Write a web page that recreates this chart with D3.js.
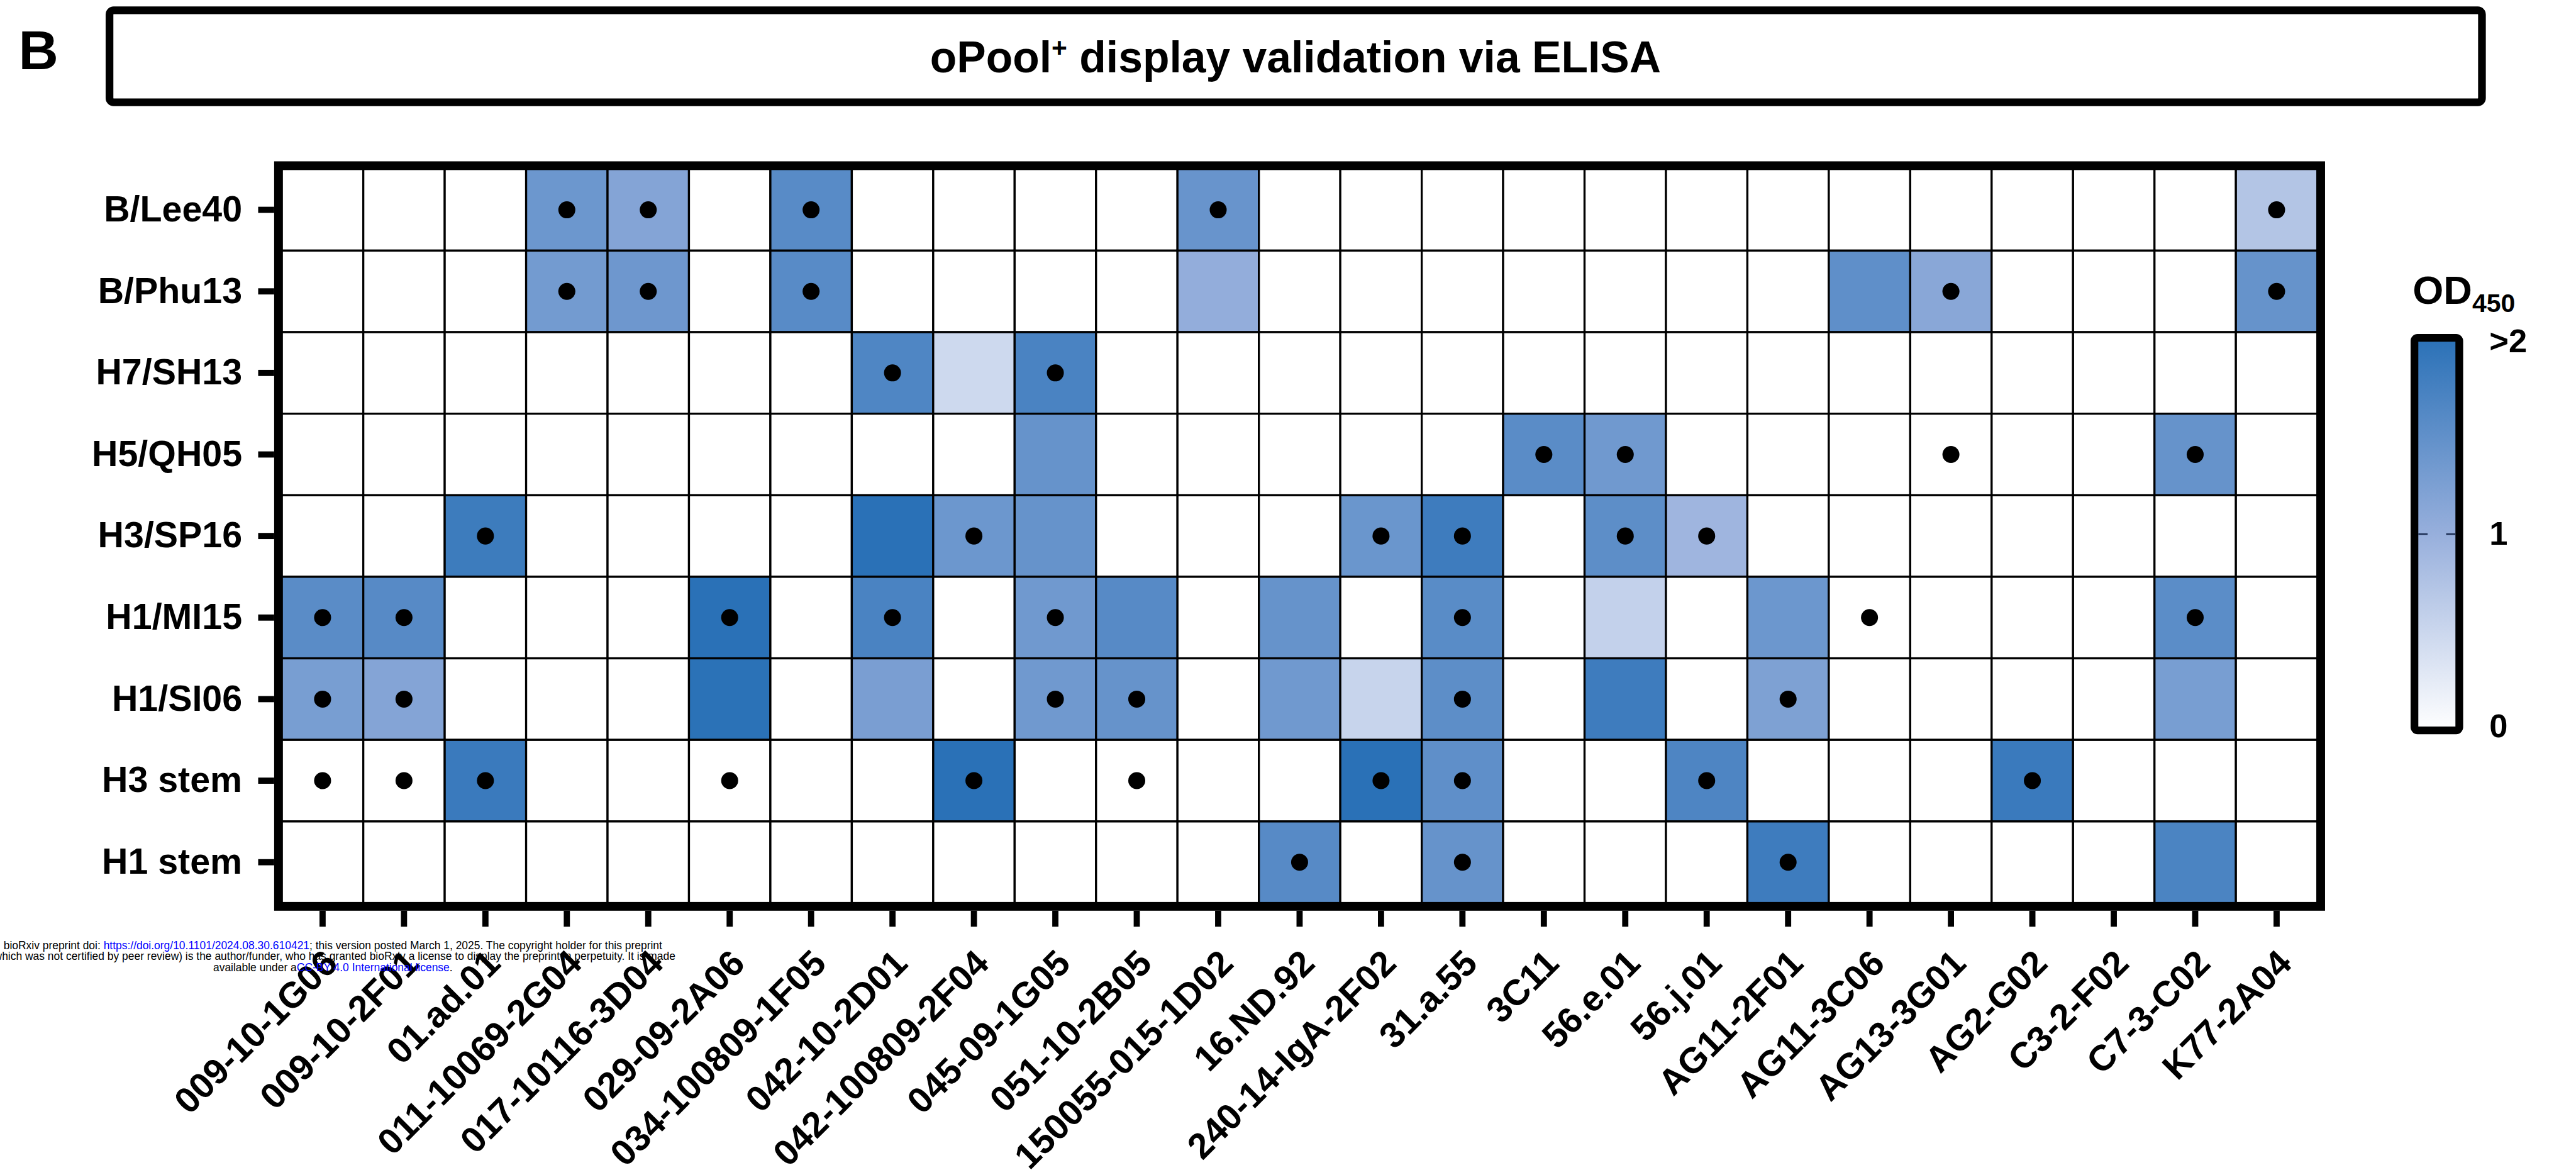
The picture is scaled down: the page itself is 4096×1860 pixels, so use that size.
<!DOCTYPE html>
<html>
<head>
<meta charset="utf-8">
<script src="https://cdn.jsdelivr.net/npm/d3@7"></script>
<style>
  html, body { margin: 0; padding: 0; background: #fff; }
  svg { display: block; }
</style>
</head>
<body>
<div id="wrapper"></div>
<script>
// columns (antibodies) and rows (antigens)
const antibodies = ["009-10-1G06", "009-10-2F01", "01.ad.01", "011-10069-2G04", "017-10116-3D04",
    "029-09-2A06", "034-100809-1F05", "042-10-2D01", "042-100809-2F04", "045-09-1G05",
    "051-10-2B05", "150055-015-1D02", "16.ND.92", "240-14-IgA-2F02", "31.a.55",
    "3C11", "56.e.01", "56.j.01", "AG11-2F01", "AG11-3C06",
    "AG13-3G01", "AG2-G02", "C3-2-F02", "C7-3-C02", "K77-2A04"]
const antigens = ["B/Lee40", "B/Phu13", "H7/SH13", "H5/QH05", "H3/SP16",
    "H1/MI15", "H1/SI06", "H3 stem", "H1 stem"]

// OD450 (capped at 2)
const odLee40  = [0, 0, 0, 1.39, 1.17, 0, 1.58, 0, 0, 0, 0, 1.43, 0, 0, 0, 0, 0, 0, 0, 0, 0, 0, 0, 0, 0.73]
const odPhu13  = [0, 0, 0, 1.33, 1.38, 0, 1.58, 0, 0, 0, 0, 1.04, 0, 0, 0, 0, 0, 0, 0, 1.51, 1.13, 0, 0, 0, 1.45]
const odSH13   = [0, 0, 0, 0, 0, 0, 0, 1.66, 0.48, 1.71, 0, 0, 0, 0, 0, 0, 0, 0, 0, 0, 0, 0, 0, 0, 0]
const odQH05   = [0, 0, 0, 0, 0, 0, 0, 0, 0, 1.45, 0, 0, 0, 0, 0, 1.56, 1.36, 0, 0, 0, 0, 0, 0, 1.45, 0]
const odSP16   = [0, 0, 1.83, 0, 0, 0, 0, 2, 1.39, 1.45, 0, 0, 0, 1.41, 1.82, 0, 1.53, 0.92, 0, 0, 0, 0, 0, 0, 0]
const odMI15   = [1.56, 1.59, 0, 0, 0, 2, 0, 1.71, 0, 1.36, 1.59, 0, 1.45, 0, 1.57, 0, 0.58, 0, 1.39, 0, 0, 0, 0, 1.55, 0]
const odSI06   = [1.28, 1.17, 0, 0, 0, 1.99, 0, 1.27, 0, 1.36, 1.45, 0, 1.36, 0.54, 1.53, 0, 1.82, 0, 1.23, 0, 0, 0, 0, 1.28, 0]
const odH3stem = [0, 0, 1.85, 0, 0, 0, 0, 0, 2, 0, 0, 0, 0, 2, 1.51, 0, 0, 1.67, 0, 0, 0, 1.85, 0, 0, 0]
const odH1stem = [0, 0, 0, 0, 0, 0, 0, 0, 0, 0, 0, 0, 1.59, 0, 1.45, 0, 0, 0, 1.82, 0, 0, 0, 0, 1.70, 0]
const odValues = [odLee40, odPhu13, odSH13, odQH05, odSP16, odMI15, odSI06, odH3stem, odH1stem]

// 1 = black dot in the cell
const dotLee40  = [0, 0, 0, 1, 1, 0, 1, 0, 0, 0, 0, 1, 0, 0, 0, 0, 0, 0, 0, 0, 0, 0, 0, 0, 1]
const dotPhu13  = [0, 0, 0, 1, 1, 0, 1, 0, 0, 0, 0, 0, 0, 0, 0, 0, 0, 0, 0, 0, 1, 0, 0, 0, 1]
const dotSH13   = [0, 0, 0, 0, 0, 0, 0, 1, 0, 1, 0, 0, 0, 0, 0, 0, 0, 0, 0, 0, 0, 0, 0, 0, 0]
const dotQH05   = [0, 0, 0, 0, 0, 0, 0, 0, 0, 0, 0, 0, 0, 0, 0, 1, 1, 0, 0, 0, 1, 0, 0, 1, 0]
const dotSP16   = [0, 0, 1, 0, 0, 0, 0, 0, 1, 0, 0, 0, 0, 1, 1, 0, 1, 1, 0, 0, 0, 0, 0, 0, 0]
const dotMI15   = [1, 1, 0, 0, 0, 1, 0, 1, 0, 1, 0, 0, 0, 0, 1, 0, 0, 0, 0, 1, 0, 0, 0, 1, 0]
const dotSI06   = [1, 1, 0, 0, 0, 0, 0, 0, 0, 1, 1, 0, 0, 0, 1, 0, 0, 0, 1, 0, 0, 0, 0, 0, 0]
const dotH3stem = [1, 1, 1, 0, 0, 1, 0, 0, 1, 0, 1, 0, 0, 1, 1, 0, 0, 1, 0, 0, 0, 1, 0, 0, 0]
const dotH1stem = [0, 0, 0, 0, 0, 0, 0, 0, 0, 0, 0, 0, 1, 0, 1, 0, 0, 0, 1, 0, 0, 0, 0, 0, 0]
const dots = [dotLee40, dotPhu13, dotSH13, dotQH05, dotSP16, dotMI15, dotSI06, dotH3stem, dotH1stem]

// colour bar
const colorStops = [0, 1, 2]
const colorRange = ["#ffffff", "#97afdc", "#2a71b7"]
const legendTicks = [0, 1, 2]
const legendTickLabels = ["0", "1", ">2"]

const FONT = "'Liberation Sans', Arial, Helvetica, sans-serif"

function drawHeatmap() {
    const width = 4096
    const height = 1860
    const k = width / 4999   // everything below is in reference pixels

    const grid = { left: 547, right: 4497, top: 328, bottom: 1752 }
    const frameW = 15

    const parent = d3.select("#wrapper")
    parent.selectAll('*').remove()

    const svg = parent.append("svg")
        .attr("width", width)
        .attr("height", height)
        .style("font-family", FONT)

    const bounds = svg.append("g")
        .attr("transform", `scale(${k})`)

    const xScale = d3.scaleBand()
        .domain(antibodies)
        .range([grid.left, grid.right])

    const yScale = d3.scaleBand()
        .domain(antigens)
        .range([grid.top, grid.bottom])

    const color = d3.scaleLinear()
        .domain(colorStops)
        .range(colorRange)
        .clamp(true)

    // panel letter + title box
    bounds.append("text")
        .attr("x", 36)
        .attr("y", 134)
        .attr("font-size", 107)
        .attr("font-weight", "bold")
        .text("B")

    bounds.append("rect")
        .attr("x", 212.5)
        .attr("y", 20)
        .attr("width", 4604)
        .attr("height", 178.5)
        .attr("rx", 8)
        .attr("fill", "none")
        .attr("stroke", "black")
        .attr("stroke-width", 15)

    const title = bounds.append("text")
        .attr("x", 2514)
        .attr("y", 140)
        .attr("text-anchor", "middle")
        .attr("font-size", 85)
        .attr("font-weight", "bold")
    title.append("tspan").text("oPool")
    title.append("tspan").attr("font-size", 52).attr("dy", -30).text("+")
    title.append("tspan").attr("dy", 30).text(" display validation via ELISA")

    // cells
    const cells = antigens.flatMap((ag, i) => antibodies.map((ab, j) => ({
        antigen: ag, antibody: ab, od: odValues[i][j], dot: dots[i][j]
    })))

    bounds.append("g")
        .selectAll("rect")
        .data(cells)
        .join("rect")
        .attr("x", d => xScale(d.antibody))
        .attr("y", d => yScale(d.antigen))
        .attr("width", xScale.bandwidth())
        .attr("height", yScale.bandwidth())
        .attr("fill", d => color(d.od))
        .attr("stroke", "black")
        .attr("stroke-width", 4)

    bounds.append("g")
        .selectAll("circle")
        .data(cells.filter(d => d.dot))
        .join("circle")
        .attr("cx", d => xScale(d.antibody) + xScale.bandwidth() / 2)
        .attr("cy", d => yScale(d.antigen) + yScale.bandwidth() / 2)
        .attr("r", 16.5)
        .attr("fill", "black")

    // thick frame
    bounds.append("rect")
        .attr("x", grid.left - frameW / 2)
        .attr("y", grid.top - frameW / 2)
        .attr("width", grid.right - grid.left + frameW)
        .attr("height", grid.bottom - grid.top + frameW)
        .attr("fill", "none")
        .attr("stroke", "black")
        .attr("stroke-width", frameW)

    // axes
    const yAxis = bounds.append("g")
        .attr("transform", `translate(${grid.left - frameW},0)`)
        .call(d3.axisLeft(yScale).tickSize(31).tickPadding(31))
        .attr("font-family", FONT)
        .attr("font-size", 70)
        .attr("font-weight", "bold")
    yAxis.select(".domain").remove()
    yAxis.selectAll(".tick line").attr("stroke-width", 12)

    const xAxis = bounds.append("g")
        .attr("transform", `translate(0,${grid.bottom + frameW})`)
        .call(d3.axisBottom(xScale).tickSize(31))
        .attr("font-family", FONT)
        .attr("font-size", 70)
        .attr("font-weight", "bold")
    xAxis.select(".domain").remove()
    xAxis.selectAll(".tick line").attr("stroke-width", 12)
    xAxis.selectAll(".tick text")
        .attr("y", 0)
        .attr("dy", null)
        .attr("text-anchor", "end")
        .attr("transform", "translate(33,106) rotate(-45)")

    // colour bar legend
    const legend = { left: 4678, right: 4780, top: 648, bottom: 1424.5, border: 15 }
    const legendScale = d3.scaleLinear()
        .domain(d3.extent(legendTicks))
        .range([legend.bottom - legend.border, legend.top + legend.border])

    const grad = svg.append("defs").append("linearGradient")
        .attr("id", "odGrad")
        .attr("x1", 0).attr("y1", 1)
        .attr("x2", 0).attr("y2", 0)
    grad.selectAll("stop")
        .data(colorStops)
        .join("stop")
        .attr("offset", d => d / d3.max(colorStops))
        .attr("stop-color", d => color(d))

    bounds.append("rect")
        .attr("x", legend.left + legend.border / 2)
        .attr("y", legend.top + legend.border / 2)
        .attr("width", legend.right - legend.left - legend.border)
        .attr("height", legend.bottom - legend.top - legend.border)
        .attr("rx", 6)
        .attr("fill", "url(#odGrad)")
        .attr("stroke", "black")
        .attr("stroke-width", legend.border)

    const innerL = legend.left + legend.border
    const innerR = legend.right - legend.border
    const midTicks = legendTicks.filter(d => d > 0 && d < d3.max(legendTicks))
    bounds.append("g")
        .selectAll("line")
        .data(midTicks.flatMap(d => [[innerL, innerL + 18, d], [innerR - 18, innerR, d]]))
        .join("line")
        .attr("x1", d => d[0])
        .attr("x2", d => d[1])
        .attr("y1", d => legendScale(d[2]))
        .attr("y2", d => legendScale(d[2]))
        .attr("stroke", "#1b2d52")
        .attr("stroke-width", 3)

    const legendAxis = bounds.append("g")
        .attr("transform", `translate(${legend.right},0)`)
        .call(d3.axisRight(legendScale)
            .tickValues(legendTicks)
            .tickFormat((d, i) => legendTickLabels[i])
            .tickSize(0)
            .tickPadding(51))
        .attr("font-family", FONT)
        .attr("font-size", 64)
        .attr("font-weight", "bold")
    legendAxis.select(".domain").remove()

    const odLabel = bounds.append("text")
        .attr("x", 4682)
        .attr("y", 589)
        .attr("font-size", 77)
        .attr("font-weight", "bold")
    odLabel.append("tspan").text("OD")
    odLabel.append("tspan").attr("font-size", 50).attr("dy", 16).text("450")

    // preprint stamp
    const stampX = 646
    const stamp = bounds.append("text")
        .attr("x", stampX)
        .attr("font-size", 21.3)
        .attr("text-anchor", "middle")
        .attr("fill", "black")
    const line1 = stamp.append("tspan").attr("x", stampX).attr("y", 1842)
    line1.append("tspan").text("bioRxiv preprint doi: ")
    line1.append("tspan").attr("fill", "#0000ff").text("https://doi.org/10.1101/2024.08.30.610421")
    line1.append("tspan").text("; this version posted March 1, 2025. The copyright holder for this preprint")
    stamp.append("tspan").attr("x", stampX).attr("y", 1863)
        .text("(which was not certified by peer review) is the author/funder, who has granted bioRxiv a license to display the preprint in perpetuity. It is made")
    const line3 = stamp.append("tspan").attr("x", stampX).attr("y", 1884)
    line3.append("tspan").text("available under a")
    line3.append("tspan").attr("fill", "#0000ff").text("CC-BY 4.0 International license")
    line3.append("tspan").text(".")
}

drawHeatmap()
</script>
</body>
</html>
